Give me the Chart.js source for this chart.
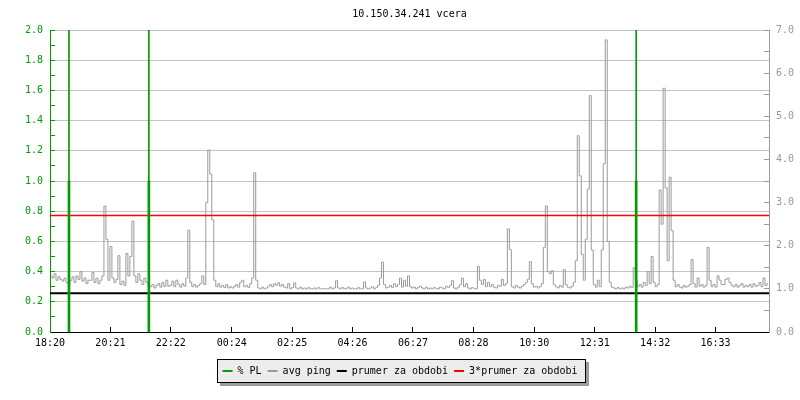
<!DOCTYPE html>
<html>
<head>
<meta charset="utf-8">
<script src="https://cdn.jsdelivr.net/npm/chart.js@4.4.1/dist/chart.umd.min.js"></script>
<style>
    html, body { margin: 0; padding: 0; background: #fff; }
    #wrap { width: 800px; height: 400px; position: relative; }
</style>
</head>
<body>
<div id="wrap"><canvas id="pingChart"></canvas></div>
<script>
// data (one ping sample every 4 minutes, 24 h)
const sampleMinutes = 4;
const avgPing = [
    1.30,1.25,1.35,1.20,1.28,1.22,1.18,1.25,1.15,1.10,1.20,1.28,1.15,1.30,1.22,1.40,1.18,1.25,1.12,1.20,
    1.20,1.38,1.15,1.25,1.12,1.20,1.30,2.92,2.15,1.20,1.98,1.25,1.15,1.22,1.77,1.10,1.18,1.08,1.82,1.30,
    1.75,2.57,1.30,1.15,1.35,1.20,1.10,1.25,1.15,1.08,1.05,1.10,1.02,1.08,1.12,1.04,1.15,1.05,1.20,1.06,
    1.08,1.18,1.05,1.20,1.10,1.04,1.12,1.06,1.25,2.36,1.15,1.05,1.10,1.04,1.08,1.12,1.30,1.10,3.00,4.22,
    3.66,2.60,1.20,1.05,1.12,1.04,1.08,1.03,1.10,1.02,1.05,1.02,1.06,1.10,1.04,1.15,1.20,1.05,1.08,1.03,
    1.12,1.25,3.69,1.20,1.02,1.00,1.04,1.00,1.02,1.06,1.10,1.05,1.12,1.08,1.14,1.06,1.10,1.04,1.02,1.12,
    1.00,1.03,1.14,1.02,1.00,1.04,1.00,1.02,1.00,1.03,1.00,1.00,1.02,1.00,1.03,1.00,1.00,1.01,1.00,1.00,
    1.04,1.00,1.02,1.19,1.02,1.00,1.03,1.00,1.01,1.04,1.00,1.02,1.00,1.00,1.03,1.00,1.00,1.16,1.02,1.00,
    1.02,1.05,1.00,1.03,1.08,1.25,1.62,1.10,1.02,1.04,1.08,1.03,1.12,1.05,1.10,1.25,1.04,1.20,1.06,1.30,
    1.05,1.02,1.04,1.00,1.03,1.06,1.02,1.00,1.04,1.00,1.02,1.00,1.03,1.01,1.00,1.04,1.02,1.00,1.06,1.03,
    1.08,1.19,1.02,1.00,1.04,1.10,1.25,1.05,1.12,1.02,1.00,1.03,1.01,1.00,1.52,1.20,1.10,1.22,1.05,1.15,
    1.05,1.10,1.04,1.02,1.08,1.06,1.22,1.08,1.12,2.39,1.91,1.05,1.02,1.08,1.04,1.02,1.06,1.10,1.15,1.22,
    1.63,1.12,1.04,1.06,1.02,1.05,1.12,1.96,2.92,1.40,1.35,1.42,1.10,1.05,1.02,1.08,1.04,1.45,1.10,1.04,
    1.02,1.06,1.15,1.65,4.55,3.62,1.80,1.20,2.15,3.31,5.48,1.90,1.10,1.04,1.20,1.05,1.90,3.90,6.77,2.10,
    1.15,1.04,1.02,1.00,1.03,1.00,1.02,1.00,1.04,1.02,1.06,1.03,1.49,1.20,1.05,1.10,1.04,1.15,1.08,1.40,
    1.12,1.75,1.15,1.05,1.10,3.29,2.50,5.65,3.34,1.65,3.59,2.35,1.20,1.05,1.10,1.04,1.02,1.08,1.04,1.06,
    1.10,1.68,1.12,1.04,1.25,1.06,1.10,1.04,1.08,1.96,1.20,1.05,1.10,1.04,1.30,1.20,1.10,1.10,1.22,1.25,
    1.15,1.08,1.05,1.10,1.04,1.08,1.12,1.04,1.08,1.05,1.10,1.04,1.12,1.06,1.08,1.15,1.05,1.25,1.08,1.12
];

// packet loss events (minutes from start)
const plMinutes = [38, 198, 1174];
const plValues = [1.0, 1.0, 1.0];
const plPeaks = [2.0, 2.0, 2.0];

const meanPing = 0.90;
const tripleMean = 2.70;

const tickMinutes = [0, 121, 242, 364, 485, 606, 727, 848, 970, 1091, 1212, 1333];
const tickLabels = ['18:20', '20:21', '22:22', '00:24', '02:25', '04:26', '06:27', '08:28', '10:30', '12:31', '14:32', '16:33'];

const spanMinutes = 1440;

const GREEN = '#009c00';
const GREY = '#9a9a9a';
const RED = '#ff0000';
const MONO = "'DejaVu Sans Mono', 'Liberation Mono', monospace";

Chart.defaults.font.family = MONO;
Chart.defaults.font.size = 10;

const isMajor = (v, step) => Math.abs(Math.round(v / step) * step - v) < 1e-6;

// ramecek se stinem kolem legendy
const legendFrame = {
    id: 'legendFrame',
    beforeDraw(chart) {
        const boxes = chart.legend && chart.legend.legendHitBoxes;
        if (!boxes || !boxes.length) return;
        const ctx = chart.ctx;
        const left = Math.floor(Math.min(...boxes.map(b => b.left))) - 5;
        const right = Math.ceil(Math.max(...boxes.map(b => b.left + b.width))) + 8;
        const cy = Math.round(boxes[0].top + boxes[0].height / 2);
        const top = cy - 12, h = 24, w = right - left;
        ctx.save();
        ctx.fillStyle = '#9c9c9c';
        ctx.fillRect(left + 3, top + 3, w, h);
        ctx.fillStyle = '#ececec';
        ctx.fillRect(left, top, w, h);
        ctx.strokeStyle = '#000';
        ctx.lineWidth = 1;
        ctx.strokeRect(left + 0.5, top + 0.5, w - 1, h - 1);
        ctx.restore();
    }
};

new Chart(document.getElementById('pingChart'), {
    type: 'line',
    data: {
        datasets: [
            {
                type: 'bar', label: '% PL', yAxisID: 'y', order: 0,
                data: plMinutes.map((t, i) => ({ x: t, y: plValues[i] })),
                backgroundColor: GREEN, borderColor: GREEN, borderWidth: 0,
                barThickness: 2, grouped: false
            },
            {
                label: 'avg ping', yAxisID: 'y2', order: 4,
                data: avgPing.map((v, i) => ({ x: i * sampleMinutes + sampleMinutes / 2, y: v })),
                borderColor: GREY, backgroundColor: GREY, borderWidth: 1,
                pointRadius: 0, stepped: 'middle'
            },
            {
                label: 'prumer za obdobi', yAxisID: 'y2', order: 3,
                data: [{ x: 0, y: meanPing }, { x: spanMinutes, y: meanPing }],
                borderColor: '#000', backgroundColor: '#000', borderWidth: 2, pointRadius: 0
            },
            {
                label: '3*prumer za obdobi', yAxisID: 'y2', order: 2,
                data: [{ x: 0, y: tripleMean }, { x: spanMinutes, y: tripleMean }],
                borderColor: RED, backgroundColor: RED, borderWidth: 1.5, pointRadius: 0
            },
            {
                type: 'bar', label: 'PL peak', yAxisID: 'y', order: 1, hideInLegend: true,
                data: plMinutes.map((t, i) => ({ x: t, y: plPeaks[i] })),
                backgroundColor: GREEN, borderWidth: 0,
                barThickness: 1, grouped: false
            }
        ]
    },
    options: {
        responsive: true,
        maintainAspectRatio: false,
        animation: false,
        events: [],
        layout: { padding: { bottom: 14 } },
        plugins: {
            title: {
                display: true,
                text: '10.150.34.241 vcera',
                color: '#000',
                fullSize: false,
                font: { family: MONO, size: 10, weight: 'normal' },
                padding: { top: 8, bottom: 10 }
            },
            legend: {
                position: 'bottom',
                labels: {
                    color: '#000',
                    font: { family: MONO, size: 10 },
                    boxWidth: 10,
                    boxHeight: 2,
                    padding: 6,
                    sort: (a, b) => a.datasetIndex - b.datasetIndex,
                    filter: (item, data) => !data.datasets[item.datasetIndex].hideInLegend,
                    generateLabels: (chart) => Chart.defaults.plugins.legend.labels.generateLabels(chart)
                        .map(l => ({ ...l, fillStyle: chart.data.datasets[l.datasetIndex].borderColor, lineWidth: 0 }))
                }
            },
            tooltip: { enabled: false }
        },
        scales: {
            x: {
                type: 'linear',
                min: 0,
                max: spanMinutes,
                offset: false,
                afterBuildTicks: (axis) => { axis.ticks = tickMinutes.map(v => ({ value: v })); },
                afterFit: (axis) => { axis.height = 28; },
                ticks: {
                    autoSkip: false, maxRotation: 0, color: '#000', padding: 10,
                    callback: (v, i) => tickLabels[i]
                },
                grid: { drawOnChartArea: false, offset: false, tickLength: -5, tickColor: '#000' },
                border: { color: '#000', width: 1 }
            },
            y: {
                position: 'left',
                min: 0,
                max: 2,
                afterFit: (axis) => { axis.width = 50; },
                ticks: {
                    stepSize: 0.1, color: GREEN, padding: 12, autoSkip: false,
                    callback: (v) => isMajor(v, 0.2) ? v.toFixed(1) : ''
                },
                grid: {
                    tickLength: -5, tickColor: GREEN,
                    color: (c) => (c.tick && isMajor(c.tick.value, 0.2)) ? '#c4c4c4' : 'rgba(0,0,0,0)'
                },
                border: { color: GREEN, width: 1 }
            },
            y2: {
                position: 'right',
                min: 0,
                max: 7,
                afterFit: (axis) => { axis.width = 31; },
                ticks: {
                    stepSize: 0.5, color: GREY, padding: 12, autoSkip: false,
                    callback: (v) => isMajor(v, 1) ? v.toFixed(1) : ''
                },
                grid: { drawOnChartArea: false, tickLength: -5, tickColor: GREY },
                border: { color: GREY, width: 1 }
            }
        }
    },
    plugins: [legendFrame]
});
</script>
</body>
</html>
